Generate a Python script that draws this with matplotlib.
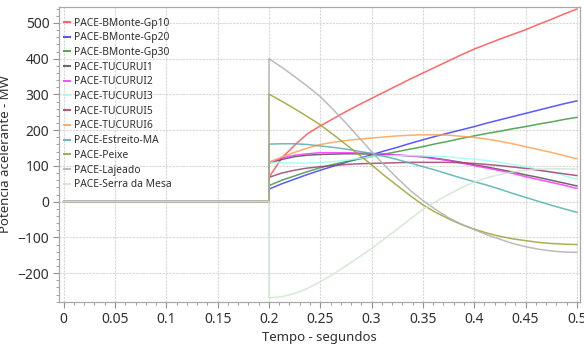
import matplotlib
matplotlib.use("Agg")
import matplotlib.pyplot as plt
from matplotlib.ticker import MultipleLocator

plt.rcParams['font.family'] = ['Noto Sans', 'DejaVu Sans']

# time axis (s): flat zero until the fault at 0.2 s, then jump
t = [0.0, 0.2, 0.2, 0.2125, 0.225, 0.2375, 0.25, 0.2625, 0.275, 0.2875, 0.3,
     0.3125, 0.325, 0.3375, 0.35, 0.3625, 0.375, 0.3875, 0.4, 0.4125, 0.425,
     0.4375, 0.45, 0.4625, 0.475, 0.4875, 0.5]

series_names = ["PACE-BMonte-Gp10", "PACE-BMonte-Gp20", "PACE-BMonte-Gp30",
                "PACE-TUCURUI1", "PACE-TUCURUI2", "PACE-TUCURUI3",
                "PACE-TUCURUI5", "PACE-TUCURUI6", "PACE-Estreito-MA",
                "PACE-Peixe", "PACE-Lajeado", "PACE-Serra da Mesa"]

bmonte_gp10 = [0, 0, 68, 122, 158, 190, 212, 232, 252, 271, 289, 307, 325, 343, 360,
               377, 394, 411, 427, 441, 455, 468, 481, 496, 510, 525, 539]
bmonte_gp20 = [0, 0, 35, 50, 63, 76, 88, 99, 110, 121, 131, 142, 152, 163, 173,
               183, 192, 201, 210, 220, 229, 238, 247, 256, 265, 274, 282]
bmonte_gp30 = [0, 0, 45, 60, 72, 84, 95, 104, 112, 119, 126, 133, 140, 147, 154,
               162, 169, 177, 184, 191, 197, 204, 210, 217, 223, 230, 236]
tucurui1 = [0, 0, 108, 118, 126, 130, 132, 133, 134, 134, 133, 132, 130, 128, 126,
            121, 116, 110, 103, 97, 90, 83, 75, 68, 60, 52, 44]
tucurui2 = [0, 0, 110, 122, 130, 134, 137, 137, 137, 136, 135, 133, 131, 128, 125,
            120, 115, 108, 101, 94, 87, 79, 70, 62, 54, 46, 37]
tucurui3 = [0, 0, 110, 109, 108, 108, 109, 112, 116, 121, 126, 128, 129, 129, 128,
            127, 125, 122, 119, 115, 110, 104, 98, 90, 82, 73, 63]
tucurui5 = [0, 0, 68, 80, 88, 94, 98, 101, 104, 106, 107, 108, 109, 110, 110,
            110, 110, 109, 107, 104, 101, 97, 93, 88, 83, 78, 73]
tucurui6 = [0, 0, 110, 125, 138, 150, 160, 166, 171, 175, 178, 181, 184, 186, 187,
            187, 186, 183, 180, 175, 169, 162, 154, 146, 138, 129, 120]
estreito = [0, 0, 161, 162, 162, 160, 156, 152, 147, 141, 135, 127, 118, 108, 98,
            88, 77, 66, 56, 46, 35, 23, 12, 1, -10, -20, -30]
peixe = [0, 0, 301, 281, 260, 238, 215, 188, 160, 132, 103, 73, 45, 17, -9,
         -30, -48, -64, -77, -88, -97, -104, -109, -114, -117, -119, -120]
lajeado = [0, 0, 400, 376, 350, 323, 294, 258, 220, 180, 140, 102, 66, 32, 3,
           -22, -45, -63, -78, -93, -105, -117, -126, -133, -138, -141, -142]
serra_mesa = [0, 0, -269, -266, -257, -243, -224, -203, -180, -156, -131, -104, -77, -49, -22,
              0, 20, 39, 55, 67, 76, 83, 88, 91, 92, 92, 91]

series_values = [bmonte_gp10, bmonte_gp20, bmonte_gp30, tucurui1, tucurui2, tucurui3,
                 tucurui5, tucurui6, estreito, peixe, lajeado, serra_mesa]

colors = ["#ff4d4d", "#3c3cff", "#3a9a3a", "#505050", "#ff30ff", "#a0fff0",
          "#a04070", "#ffa050", "#50b0b0", "#a0a030", "#b0b0b0", "#cfe6cf"]

x_ticks = [0, 0.05, 0.1, 0.15, 0.2, 0.25, 0.3, 0.35, 0.4, 0.45, 0.5]
x_tick_labels = ["0", "0.05", "0.1", "0.15", "0.2", "0.25", "0.3", "0.35", "0.4", "0.45", "0.5"]
y_ticks = [-200, -100, 0, 100, 200, 300, 400, 500]

fig = plt.figure(figsize=(5.84, 3.46), dpi=100)
ax = fig.add_axes([0.101, 0.127, 0.892, 0.853])

for name, vals, c in zip(series_names, series_values, colors):
    ax.plot(t, vals, color=c, lw=1.1, alpha=0.85, label=name)

ax.set_xlim(-0.0046, 0.503)
ax.set_ylim(-281, 545)
ax.set_xticks(x_ticks)
ax.set_xticklabels(x_tick_labels)
ax.set_yticks(y_ticks)
ax.xaxis.set_minor_locator(MultipleLocator(0.01))
ax.yaxis.set_minor_locator(MultipleLocator(20))
ax.grid(True, which='major', color='#d8d8d8', lw=0.8, ls=(0, (2, 1)))
ax.set_axisbelow(True)

for s in ax.spines.values():
    s.set_color('#a8a8a8')
    s.set_linewidth(0.9)
ax.tick_params(axis='both', which='major', length=4, color='#909090',
               labelsize=10, labelcolor='#303030', pad=3)
ax.tick_params(axis='both', which='minor', length=2, color='#909090')

ax.set_xlabel("Tempo - segundos", fontsize=9.5, color='#303030', labelpad=3)
ax.set_ylabel("Potencia acelerante - MW", fontsize=9.5, color='#303030', labelpad=4)

leg = ax.legend(loc='upper left', bbox_to_anchor=(-0.003, 0.985), frameon=False,
                fontsize=7.4, handlelength=0.65, handletextpad=0.4,
                labelspacing=0.36, borderaxespad=0.2)
for txt in leg.get_texts():
    txt.set_color('#303030')
for h in leg.get_lines():
    h.set_linewidth(1.5)

fig.savefig("out.png", dpi=100)
